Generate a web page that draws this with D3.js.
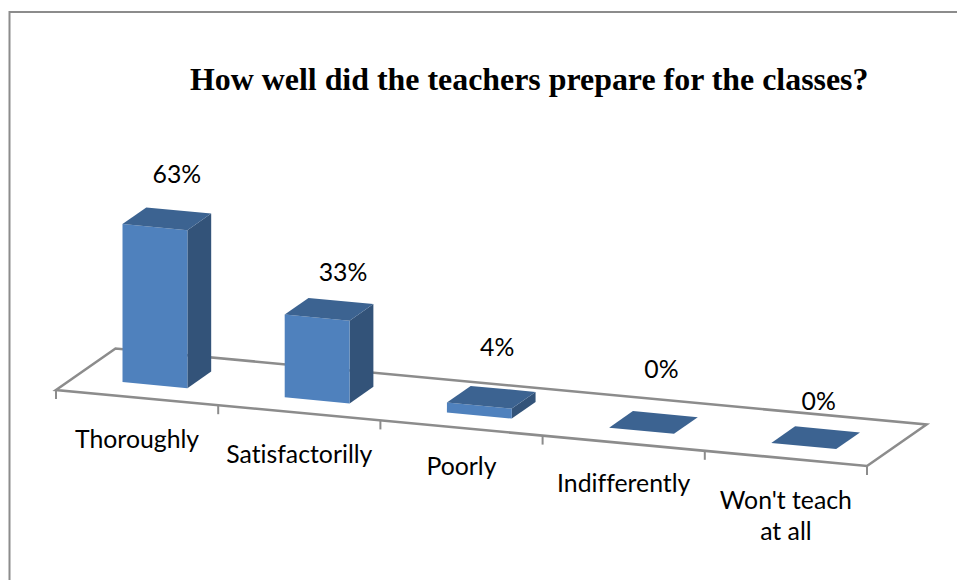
<!DOCTYPE html>
<html>
<head>
<meta charset="utf-8">
<script src="https://cdn.jsdelivr.net/npm/d3@7"></script>
<style>
html,body{margin:0;padding:0;background:#fff;overflow:hidden;}
.lab{font-family:Lato,sans-serif;font-size:24.8px;fill:#000;text-anchor:middle;font-variant-ligatures:none;}
.title{font-family:"Liberation Serif",serif;font-weight:bold;font-size:31.9px;fill:#000;}
</style>
</head>
<body>
<script>
var categories = ["Thoroughly", "Satisfactorilly", "Poorly", "Indifferently", "Won't teach at all"];
var percents = [63, 33, 4, 0, 0];
var chartTitle = "How well did the teachers prepare for the classes?";

var width=957,height=580;
var svg = d3.select("body")
	.append("svg")
	.attr("width", width)
	.attr("height", height)
	.style("display","block");

// outer frame, open on the right and at the bottom
svg.append("path")
	.attr("d", "M9.5,580 L9.5,12 L957,12")
	.attr("fill", "none")
	.attr("stroke", "#8c8c8c")
	.attr("stroke-width", 2);

svg.append("text")
	.attr("class", "title")
	.attr("x", 190)
	.attr("y", 90)
	.text(chartTitle);

// the oblique projection: along the axis, into the depth, and up
var along = d3.scaleBand().domain(categories).range([0,5]).paddingInner(0.6).paddingOuter(0.3);
var alongX = d3.scaleLinear().domain([0,5]).range([56,867]);
var alongY = d3.scaleLinear().domain([0,5]).range([390,466]);
var depthX = d3.scaleLinear().domain([0,1]).range([0,59.5]);
var depthY = d3.scaleLinear().domain([0,1]).range([0,-41.5]);
var rise = d3.scaleLinear().domain([0,63]).range([0,158]);

function pt(u,d,v){
	return [alongX(u)+depthX(d), alongY(u)+depthY(d)-rise(v)];
}
var line = d3.line();

// floor
svg.append("path")
	.attr("d", line([pt(0,0,0),pt(0,1,0),pt(5,1,0),pt(5,0,0)])+"Z")
	.attr("fill", "#fff")
	.attr("stroke", "#8c8c8c")
	.attr("stroke-width", 2.6);

svg.append("g").selectAll("line")
	.data(d3.range(0,6))
	.enter().append("line")
	.attr("x1", function(d){return pt(d,0,0)[0];})
	.attr("y1", function(d){return pt(d,0,0)[1];})
	.attr("x2", function(d){return pt(d,0,0)[0];})
	.attr("y2", function(d){return pt(d,0,0)[1]+9;})
	.attr("stroke", "#8c8c8c")
	.attr("stroke-width", 2);

// bars: side, front, top
var d0=0.3,d1=0.7;
var bars = svg.append("g").selectAll("g")
	.data(categories)
	.enter().append("g");

bars.append("path")
	.attr("fill", "#335379")
	.attr("d", function(c,i){
		var u=along(c)+along.bandwidth(),v=percents[i];
		return line([pt(u,d0,0),pt(u,d1,0),pt(u,d1,v),pt(u,d0,v)])+"Z";
	});
bars.append("path")
	.attr("fill", "#4f81bd")
	.attr("d", function(c,i){
		var a=along(c),b=a+along.bandwidth(),v=percents[i];
		return line([pt(a,d0,0),pt(b,d0,0),pt(b,d0,v),pt(a,d0,v)])+"Z";
	});
bars.append("path")
	.attr("fill", "#3c6391")
	.attr("d", function(c,i){
		var a=along(c),b=a+along.bandwidth(),v=percents[i];
		return line([pt(a,d0,v),pt(b,d0,v),pt(b,d1,v),pt(a,d1,v)])+"Z";
	});

// value labels were dragged by hand in the original, hence the nudges
var nudge = [[10,-28],[14,-28],[6,-41],[8,-44],[3,-28]];
nudge[0][1] = -36;
svg.append("g").selectAll("text")
	.data(categories)
	.enter().append("text")
	.attr("class", "lab")
	.attr("x", function(c,i){return pt(along(c)+along.bandwidth()/2,0.5,percents[i])[0]+nudge[i][0];})
	.attr("y", function(c,i){return pt(along(c)+along.bandwidth()/2,0.5,percents[i])[1]+nudge[i][1];})
	.text(function(c,i){return percents[i]+"%";});

// category labels, the last one wraps
var labelDrop = [50,50,47,49,51];
var catLabels = svg.append("g").selectAll("text")
	.data(categories)
	.enter().append("text")
	.attr("class", "lab")
	.attr("y", function(c,i){return pt(along(c)+along.bandwidth()/2,0,0)[1]+labelDrop[i];});
catLabels.each(function(c,i){
	var x=pt(along(c)+along.bandwidth()/2,0,0)[0];
	var parts = c=="Won't teach at all" ? ["Won't teach","at all"] : [c];
	d3.select(this).selectAll("tspan")
		.data(parts)
		.enter().append("tspan")
		.attr("x", x)
		.attr("dy", function(p,j){return j?31:0;})
		.text(function(p){return p;});
});
</script>
</body>
</html>
